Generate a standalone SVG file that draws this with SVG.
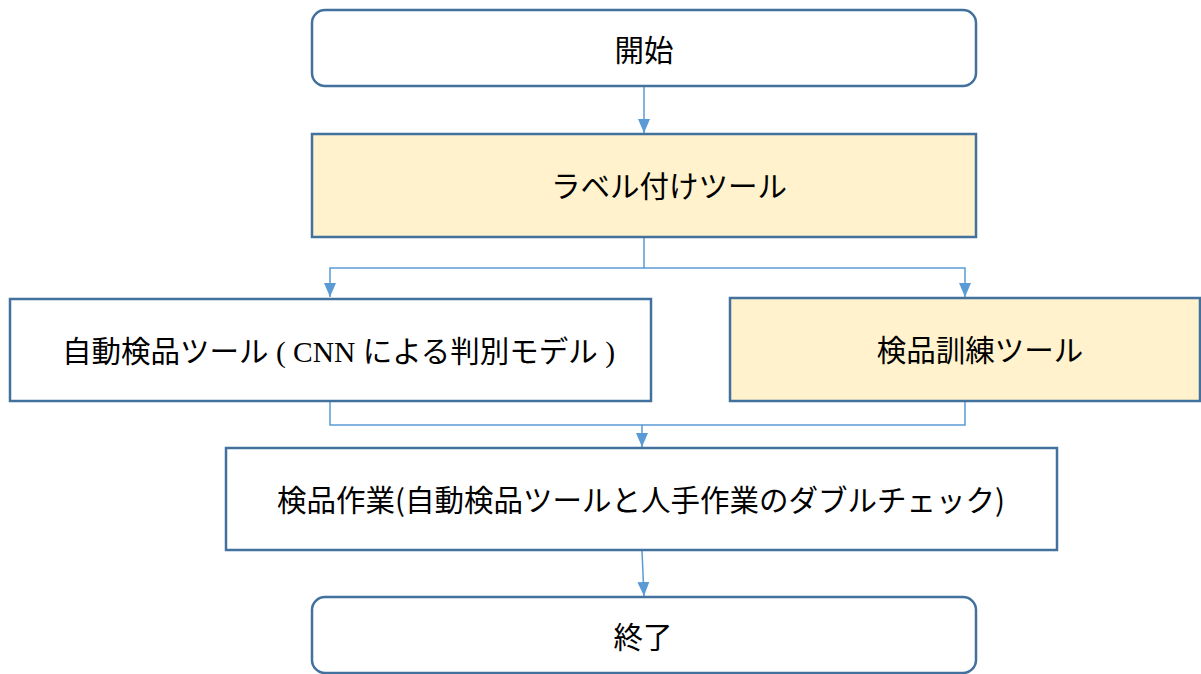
<svg xmlns="http://www.w3.org/2000/svg" width="1201" height="674" viewBox="0 0 1201 674">
<defs>
<style>
.box{stroke:#41719C;stroke-width:2.5;fill:#FFFFFF}
.yel{fill:#FFF2CC}
.t{font-family:"Noto Sans CJK JP","Noto Sans",sans-serif;font-size:29.5px;fill:#000}
.s{font-family:"Liberation Serif",serif}
.c{stroke:#5B9BD5;stroke-width:1.5;fill:none}
</style>
<marker id="ad" viewBox="0 0 14 12" refX="14" refY="6" markerWidth="14" markerHeight="12" markerUnits="userSpaceOnUse" orient="auto">
<path d="M0,0 L14,6 L0,12 Z" fill="#5B9BD5"/>
</marker>
</defs>
<rect width="1201" height="674" fill="#FFFFFF"/>
<g id="connectors">
<line class="c" x1="644" y1="87" x2="644" y2="133" marker-end="url(#ad)"/>
<polyline class="c" points="644,238 644,268 330,268 330,297" marker-end="url(#ad)"/>
<polyline class="c" points="644,268 965,268 965,297" marker-end="url(#ad)"/>
<polyline class="c" points="330,402 330,425 642,425 642,447" marker-end="url(#ad)"/>
<polyline class="c" points="965,402 965,425 642,425"/>
<line class="c" x1="642" y1="551" x2="644" y2="596" marker-end="url(#ad)"/>
</g>
<g id="start">
<rect class="box" x="312" y="10" width="664" height="76" rx="13"/>
<text class="t" x="644" y="61" text-anchor="middle">開始</text>
</g>
<g id="label-tool">
<rect class="box yel" x="312" y="134" width="664" height="103"/>
<text class="t" x="669" y="197" text-anchor="middle">ラベル付けツール</text>
</g>
<g id="auto-tool">
<rect class="box" x="10" y="299" width="641" height="102"/>
<text class="t" x="62" y="362">自動検品ツール<tspan class="s"> ( CNN </tspan>による判別モデル<tspan class="s"> )</tspan></text>
</g>
<g id="train-tool">
<rect class="box yel" x="730" y="298" width="470" height="103"/>
<text class="t" x="980" y="361" text-anchor="middle">検品訓練ツール</text>
</g>
<g id="work">
<rect class="box" x="226" y="448" width="831" height="102"/>
<text class="t" x="641" y="511" text-anchor="middle">検品作業(自動検品ツールと人手作業のダブルチェック)</text>
</g>
<g id="end">
<rect class="box" x="312" y="597" width="664" height="76" rx="13"/>
<text class="t" x="643" y="648" text-anchor="middle">終了</text>
</g>
</svg>
